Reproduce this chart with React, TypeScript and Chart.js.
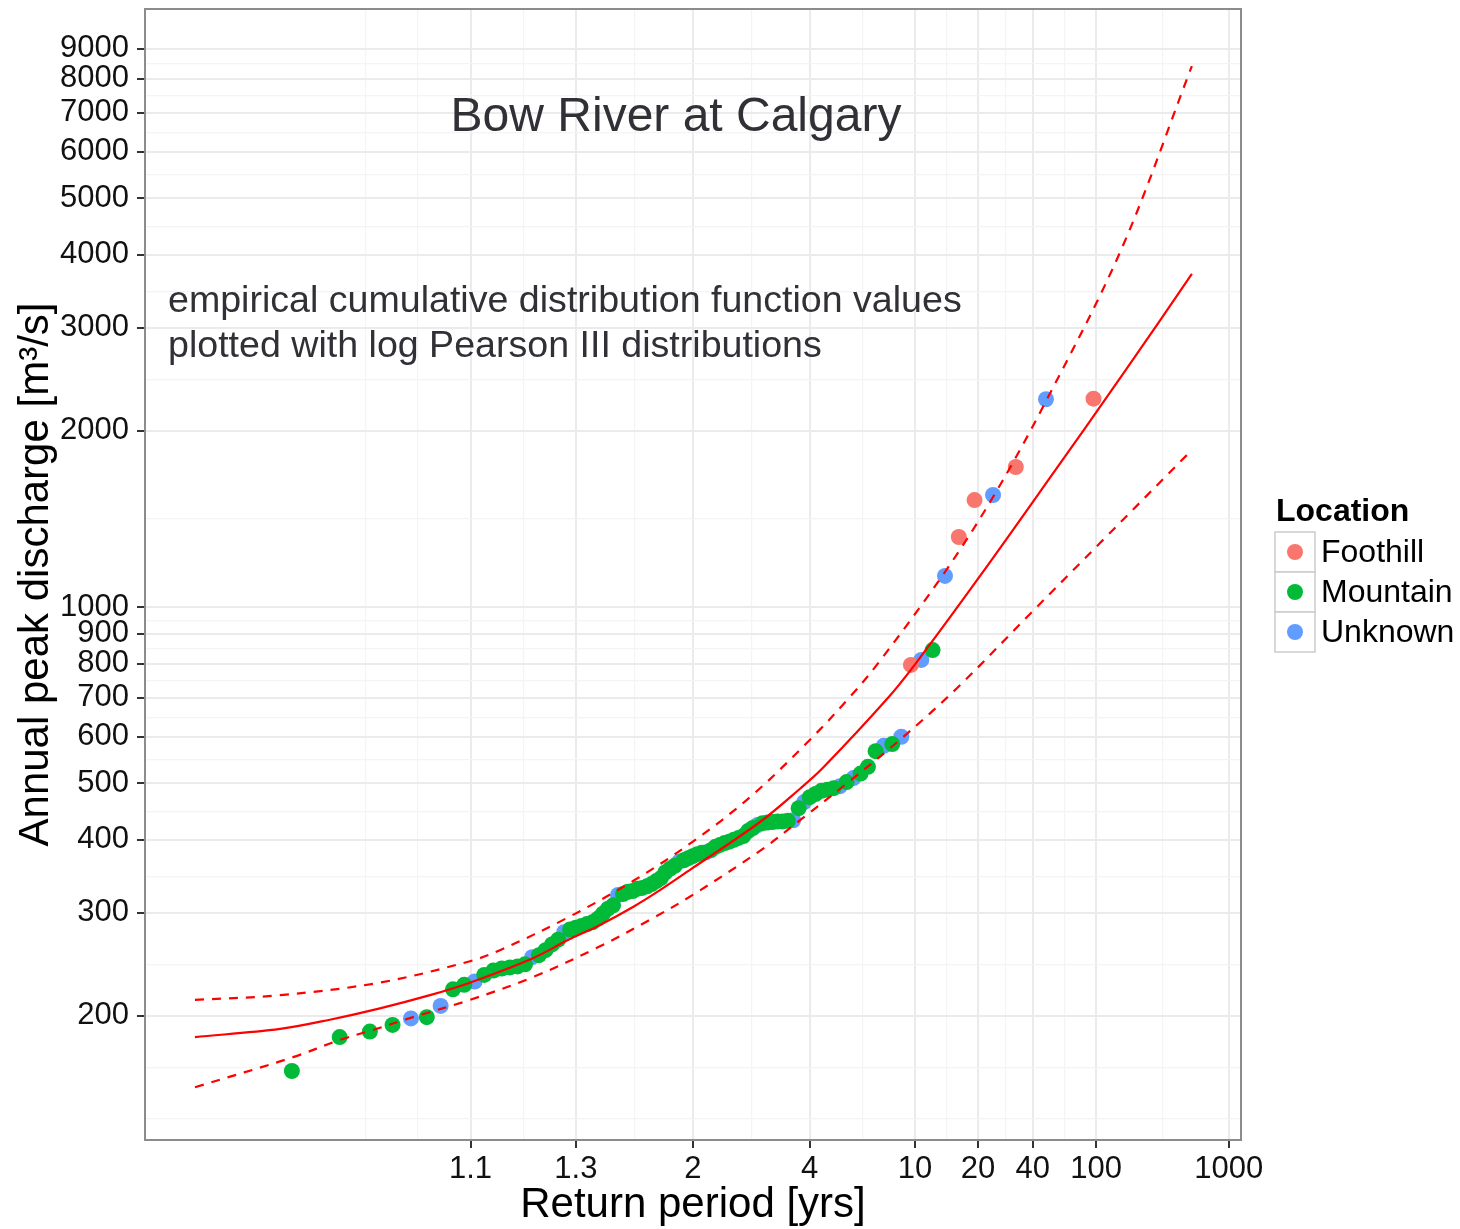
import React, { useEffect, useRef } from "react";
import { Chart, registerables } from "chart.js";

Chart.register(...registerables);

const FONT = '"Liberation Sans", Arial, Helvetica, sans-serif';

// ---------------- data (return period in years, annual peak discharge in m³/s) ----------------
const foothillReturn = [9.6, 16.0, 19.2, 32.0, 96.0];
const foothillPeak = [796, 1317, 1523, 1735, 2270];

const mountainReturn = [
  1.0105, 1.0213, 1.0323, 1.0435, 1.0667, 1.0909, 1.1034, 1.1294, 1.1429, 1.1566,
  1.1707, 1.1852, 1.2, 1.2308, 1.2468, 1.2632, 1.28, 1.3151, 1.3333, 1.3521,
  1.3714, 1.3913, 1.4118, 1.4328, 1.4545, 1.4769, 1.5238, 1.5484, 1.5738, 1.6,
  1.6271, 1.6552, 1.6842, 1.7143, 1.7455, 1.7778, 1.8113, 1.8462, 1.92, 1.9592,
  2.0, 2.0426, 2.087, 2.1818, 2.2326, 2.2857, 2.3415, 2.4, 2.4615, 2.5263,
  2.5946, 2.6667, 2.7429, 2.9091, 3.0, 3.0968, 3.2, 3.3103, 3.4286, 3.6923,
  4.0, 4.1739, 4.3636, 4.5714, 4.8, 5.3333, 6.0, 6.4, 6.8571, 8.0, 12.0,
];
const mountainPeak = [
  161, 184, 188, 193, 199, 222, 226, 235, 239, 241,
  242, 243, 245, 254, 259, 265, 270, 281, 283, 285,
  287, 289, 293, 299, 305, 309, 323, 326, 327, 330,
  331, 333, 336, 340, 344, 352, 357, 361, 369, 372,
  375, 378, 380, 384, 389, 392, 395, 397, 400, 403,
  406, 414, 419, 427, 428, 429, 430, 430, 431, 453,
  473, 479, 485, 487, 490, 502, 519, 533, 567, 583, 844,
];

const unknownReturn = [
  1.0549, 1.0787, 1.1163, 1.2152, 1.2973, 1.5, 1.8824, 2.1333, 2.8235, 3.5556,
  3.84, 5.0526, 5.6471, 7.3846, 8.7273, 10.667, 13.714, 24.0, 48.0,
];
const unknownPeak = [
  198, 208, 229, 252, 278, 322, 367, 381, 424, 432,
  464, 494, 510, 579, 600, 812, 1130, 1554, 2265,
];

// fitted log Pearson III curve and its bounds
const fitReturn = [1.00205, 1.00874, 1.0185, 1.0369, 1.0693, 1.1067, 1.2171, 1.3056, 1.4211, 1.5751, 1.739, 2.0, 2.864, 3.729, 4.417, 7.61, 10.1, 20.5, 48.7, 158, 500];
const fitPeak = [184, 190, 197, 206, 217, 227, 251, 269, 286, 307, 328, 358, 429, 489, 531, 696, 802, 1130, 1636, 2532, 3709];

const upperReturn = [1.00205, 1.00874, 1.0369, 1.1104, 1.1535, 1.3056, 1.5751, 2.0, 2.697, 3.92, 5.486, 7.135, 13.6, 24.0, 47.4, 150, 500];
const upperPeak = [213, 217, 228, 248, 259, 294, 340, 397, 473, 586, 702, 809, 1143, 1542, 2233, 4109, 8409];

const lowerReturn = [1.00205, 1.0107, 1.0214, 1.0332, 1.0563, 1.1104, 1.2171, 1.4211, 1.674, 2.0, 2.864, 3.729, 5.305, 8.79, 15.7, 38.6, 106, 500];
const lowerPeak = [151, 170, 182, 189, 199, 213, 233, 263, 292, 322, 383, 432, 498, 597, 727, 973, 1286, 1855];

// axes
const xTickProbs = [0.1, 0.25, 0.5, 0.75, 0.9, 0.95, 0.975, 0.99, 0.999];
const xTickLabels = ["1.1", "1.3", "2", "4", "10", "20", "40", "100", "1000"];
const yTickValues = [200, 300, 400, 500, 600, 700, 800, 900, 1000, 2000, 3000, 4000, 5000, 6000, 7000, 8000, 9000];
const yTickLabels = ["200", "300", "400", "500", "600", "700", "800", "900", "1000", "2000", "3000", "4000", "5000", "6000", "7000", "8000", "9000"];

const seriesNames = ["Foothill", "Mountain", "Unknown"];
const seriesColors = ["#F8766D", "#00BA38", "#619CFF"];

const chartTitle = "Bow River at Calgary";
const noteLines = ["empirical cumulative distribution function values", "plotted with log Pearson III distributions"];
const xAxisTitle = "Return period [yrs]";
const yAxisTitle = "Annual peak discharge [m³/s]";
const legendTitle = "Location";

// inverse standard normal (scale transform for the probability axis)
function probit(p: number): number {
  const a = [-3.969683028665376e1, 2.209460984245205e2, -2.759285104469687e2, 1.38357751867269e2, -3.066479806614716e1, 2.506628277459239];
  const b = [-5.447609879822406e1, 1.615858368580409e2, -1.556989798598866e2, 6.680131188771972e1, -1.328068155288572e1];
  const c = [-7.784894002430293e-3, -3.223964580411365e-1, -2.400758277161838, -2.549732539343734, 4.374664141464968, 2.938163982698783];
  const d = [7.784695709041462e-3, 3.224671290700398e-1, 2.445134137142996, 3.754408661907416];
  const pl = 0.02425;
  if (p < pl) {
    const q = Math.sqrt(-2 * Math.log(p));
    return (((((c[0] * q + c[1]) * q + c[2]) * q + c[3]) * q + c[4]) * q + c[5]) / ((((d[0] * q + d[1]) * q + d[2]) * q + d[3]) * q + 1);
  }
  if (p <= 1 - pl) {
    const q = p - 0.5;
    const r = q * q;
    return ((((((a[0] * r + a[1]) * r + a[2]) * r + a[3]) * r + a[4]) * r + a[5]) * q) / (((((b[0] * r + b[1]) * r + b[2]) * r + b[3]) * r + b[4]) * r + 1);
  }
  const q = Math.sqrt(-2 * Math.log(1 - p));
  return -(((((c[0] * q + c[1]) * q + c[2]) * q + c[3]) * q + c[4]) * q + c[5]) / ((((d[0] * q + d[1]) * q + d[2]) * q + d[3]) * q + 1);
}

type TickObj = { value: number; lbl: string; isMajor: boolean };

const MAJOR_GRID = "#EBEBEB";
const MINOR_GRID = "#F4F4F4";

export default function App() {
  const canvasRef = useRef<HTMLCanvasElement | null>(null);

  useEffect(() => {
    document.body.style.margin = "0";
    const canvas = canvasRef.current;
    if (!canvas) return;

    const zOf = (t: number) => probit(1 - 1 / t);
    const toPoints = (T: number[], Q: number[]) => T.map((t, i) => ({ x: zOf(t), y: Q[i] }));

    const xMin = -3.159;
    const xMax = 3.1615;
    const yMin = 122.7;
    const yMax = 10525;

    // x ticks: majors + ggplot-like minor grid (midpoints)
    const xMajor = xTickProbs.map(probit);
    const xStep = xMajor[1] - xMajor[0];
    const xBreaks = [xMajor[0] - xStep, ...xMajor, xMajor[xMajor.length - 1] + xStep];
    const xTicks: TickObj[] = xMajor.map((v, i) => ({ value: v, lbl: xTickLabels[i], isMajor: true }));
    xTicks.push({ value: xBreaks[0], lbl: "", isMajor: false });
    for (let i = 0; i < xBreaks.length - 1; i++) {
      xTicks.push({ value: (xBreaks[i] + xBreaks[i + 1]) / 2, lbl: "", isMajor: false });
    }
    const xTicksIn = xTicks.filter((t) => t.value >= xMin && t.value <= xMax).sort((p, q) => p.value - q.value);

    const yLogs = yTickValues.map((v) => Math.log10(v));
    const yStep = yLogs[1] - yLogs[0];
    const yBreaks = [yLogs[0] - yStep, ...yLogs, yLogs[yLogs.length - 1] + yStep];
    const yTicks: TickObj[] = yTickValues.map((v, i) => ({ value: v, lbl: yTickLabels[i], isMajor: true }));
    yTicks.push({ value: Math.pow(10, yBreaks[0]), lbl: "", isMajor: false });
    for (let i = 0; i < yBreaks.length - 1; i++) {
      yTicks.push({ value: Math.pow(10, (yBreaks[i] + yBreaks[i + 1]) / 2), lbl: "", isMajor: false });
    }
    const yTicksIn = yTicks.filter((t) => t.value >= yMin && t.value <= yMax).sort((p, q) => p.value - q.value);

    const overlayPlugin = {
      id: "overlay",
      afterDraw(chart: any) {
        const ctx = chart.ctx as CanvasRenderingContext2D;
        const a = chart.chartArea;
        ctx.save();
        // panel border
        ctx.strokeStyle = "#8C8C8C";
        ctx.lineWidth = 2;
        ctx.strokeRect(a.left, a.top, a.right - a.left, a.bottom - a.top);

        // title and note
        ctx.fillStyle = "#303036";
        ctx.textBaseline = "alphabetic";
        ctx.textAlign = "center";
        ctx.font = `48px ${FONT}`;
        ctx.fillText(chartTitle, a.left + 531, a.top + 122);
        ctx.textAlign = "left";
        ctx.font = `37.6px ${FONT}`;
        ctx.fillText(noteLines[0], a.left + 23, a.top + 303);
        ctx.fillText(noteLines[1], a.left + 23, a.top + 348);

        // legend
        const lx = a.right + 34;
        const ly = 532;
        const kw = 40;
        const kh = 40;
        ctx.fillStyle = "#000000";
        ctx.textBaseline = "middle";
        ctx.font = `bold 32px ${FONT}`;
        ctx.fillText(legendTitle, lx + 1, 512);
        for (let i = 0; i < seriesNames.length; i++) {
          const y0 = ly + i * kh;
          ctx.fillStyle = "#FFFFFF";
          ctx.fillRect(lx, y0, kw, kh);
          ctx.strokeStyle = "#CCCCCC";
          ctx.lineWidth = 1.5;
          ctx.strokeRect(lx, y0, kw, kh);
          ctx.beginPath();
          ctx.arc(lx + kw / 2, y0 + kh / 2, 8, 0, Math.PI * 2);
          ctx.fillStyle = seriesColors[i];
          ctx.fill();
          ctx.fillStyle = "#000000";
          ctx.font = `32px ${FONT}`;
          ctx.fillText(seriesNames[i], lx + 46, y0 + kh / 2 + 1);
        }
        ctx.restore();
      },
    };

    const lineBase = {
      showLine: true,
      borderColor: "#FF0000",
      borderWidth: 2.2,
      pointRadius: 0,
      pointHoverRadius: 0,
      tension: 0.35,
      fill: false,
      order: 0,
    };
    const pointBase = {
      showLine: false,
      pointRadius: 8,
      pointHoverRadius: 8,
      borderWidth: 0,
      pointBorderWidth: 0,
    };

    const gridColor = (ctx: any) => (ctx.tick && ctx.tick.isMajor ? MAJOR_GRID : MINOR_GRID);
    const gridWidth = (ctx: any) => (ctx.tick && ctx.tick.isMajor ? 2 : 1.2);
    const tickColor = (ctx: any) => (ctx.tick && ctx.tick.isMajor ? "#333333" : "rgba(0,0,0,0)");

    const chart = new Chart(canvas, {
      type: "scatter",
      data: {
        datasets: [
          { ...lineBase, label: "fit", data: toPoints(fitReturn, fitPeak) },
          { ...lineBase, label: "upper", data: toPoints(upperReturn, upperPeak), borderDash: [9, 8] },
          { ...lineBase, label: "lower", data: toPoints(lowerReturn, lowerPeak), borderDash: [9, 8] },
          { ...pointBase, label: seriesNames[1], data: toPoints(mountainReturn, mountainPeak), backgroundColor: seriesColors[1], borderColor: seriesColors[1], order: 1 },
          { ...pointBase, label: seriesNames[0], data: toPoints(foothillReturn, foothillPeak), backgroundColor: seriesColors[0], borderColor: seriesColors[0], order: 2 },
          { ...pointBase, label: seriesNames[2], data: toPoints(unknownReturn, unknownPeak), backgroundColor: seriesColors[2], borderColor: seriesColors[2], order: 3 },
        ] as any,
      },
      options: {
        responsive: false,
        maintainAspectRatio: false,
        animation: false,
        devicePixelRatio: 1,
        events: [],
        layout: { padding: { left: 0, top: 9, right: 219, bottom: 0 } },
        plugins: {
          legend: { display: false },
          tooltip: { enabled: false },
          title: { display: false },
        },
        scales: {
          x: {
            type: "linear",
            min: xMin,
            max: xMax,
            afterBuildTicks: (s: any) => {
              s.ticks = xTicksIn.map((t) => ({ ...t }));
            },
            afterFit: (s: any) => {
              s.height = 89;
              s.paddingLeft = 0;
              s.paddingRight = 0;
            },
            ticks: {
              autoSkip: false,
              maxRotation: 0,
              minRotation: 0,
              padding: 3,
              color: "#111111",
              font: { family: FONT, size: 31 },
              callback: (_v: any, i: number, ticks: any[]) => ticks[i].lbl,
            },
            grid: {
              color: gridColor,
              lineWidth: gridWidth,
              tickColor: tickColor,
              tickWidth: 2,
              tickLength: 8,
              drawTicks: true,
              drawOnChartArea: true,
            },
            border: { display: false },
            title: {
              display: true,
              text: xAxisTitle,
              color: "#000000",
              font: { family: FONT, size: 42, lineHeight: 1 },
              padding: { top: 0, bottom: 2.5 },
            },
          } as any,
          y: {
            type: "logarithmic",
            min: yMin,
            max: yMax,
            afterBuildTicks: (s: any) => {
              s.ticks = yTicksIn.map((t) => ({ ...t }));
            },
            afterFit: (s: any) => {
              s.width = 145;
              s.paddingTop = 0;
              s.paddingBottom = 0;
            },
            ticks: {
              autoSkip: false,
              padding: 8,
              color: "#111111",
              font: { family: FONT, size: 31 },
              callback: (_v: any, i: number, ticks: any[]) => ticks[i].lbl,
            },
            grid: {
              color: gridColor,
              lineWidth: gridWidth,
              tickColor: tickColor,
              tickWidth: 2,
              tickLength: 8,
              drawTicks: true,
              drawOnChartArea: true,
            },
            border: { display: false },
            title: {
              display: true,
              text: yAxisTitle,
              color: "#000000",
              font: { family: FONT, size: 42, lineHeight: 1 },
              padding: { top: 15, bottom: 0 },
            },
          } as any,
        },
      },
      plugins: [overlayPlugin],
    });

    return () => chart.destroy();
  }, []);

  return (
    <div style={{ width: 1460, height: 1229, background: "#FFFFFF" }}>
      <canvas ref={canvasRef} width={1460} height={1229} style={{ display: "block" }} />
    </div>
  );
}
